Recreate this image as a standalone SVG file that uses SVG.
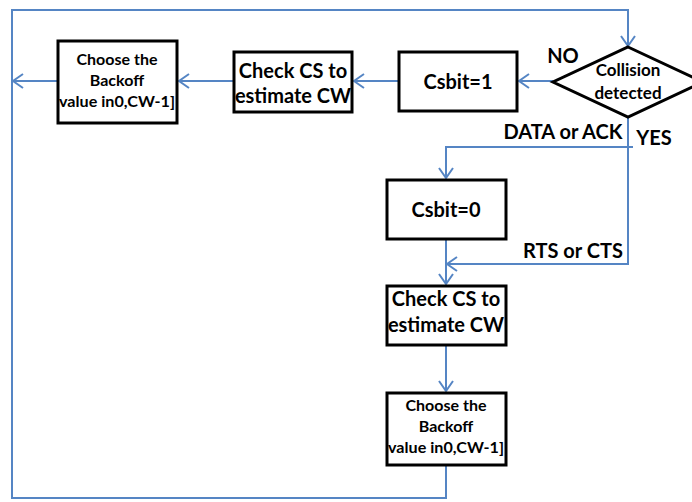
<svg xmlns="http://www.w3.org/2000/svg" width="692" height="502" viewBox="0 0 692 502">
<style>
.box{fill:#fff;stroke:#000;stroke-width:3}
.ln{fill:none;stroke:#5585C4;stroke-width:2}
text{font-family:Lato,"Open Sans","Liberation Sans",sans-serif;font-weight:bold;fill:#000;text-anchor:middle}
.big{font-size:20px}
.sm{font-size:16px}
.dia{font-size:17px}
.lbl{font-size:20px}
</style>
<defs>
<marker id="ar" viewBox="0 0 12 16" refX="11" refY="8" markerWidth="12" markerHeight="16" markerUnits="userSpaceOnUse" orient="auto">
<polyline points="1,1 11,8 1,15" fill="none" stroke="#5585C4" stroke-width="2"/>
</marker>
</defs>
<rect width="692" height="502" fill="#fff"/>
<g id="connectors">
<polyline class="ln" points="446,465 446,498 12,498 12,10 628,10 628,46" marker-end="url(#ar)"/>
<line class="ln" x1="553" y1="81" x2="519" y2="81" marker-end="url(#ar)"/>
<line class="ln" x1="399" y1="81" x2="354" y2="81" marker-end="url(#ar)"/>
<line class="ln" x1="234" y1="81" x2="179" y2="81" marker-end="url(#ar)"/>
<line class="ln" x1="58" y1="81" x2="13" y2="81" marker-end="url(#ar)"/>
<polyline class="ln" points="628,117 628,264 447,264" marker-end="url(#ar)"/>
<polyline class="ln" points="633,147 446,147 446,178" marker-end="url(#ar)"/>
<line class="ln" x1="446" y1="239" x2="446" y2="284" marker-end="url(#ar)"/>
<line class="ln" x1="446" y1="345" x2="446" y2="391" marker-end="url(#ar)"/>
</g>
<g id="collision">
<polygon class="box" points="628,47 703,82 628,117 553,82"/>
<text class="dia" x="628" y="76">Collision</text>
<text class="dia" x="628" y="99">detected</text>
</g>
<g id="csbit1">
<rect class="box" x="399" y="52" width="118" height="59"/>
<text class="big" x="458" y="89">Csbit=1</text>
</g>
<g id="checkcs1">
<rect class="box" x="234" y="52" width="118" height="60"/>
<text class="big" x="293" y="78">Check CS to</text>
<text class="big" x="293" y="103">estimate CW</text>
</g>
<g id="backoff1">
<rect class="box" x="58" y="41" width="119" height="82"/>
<text class="sm" x="117" y="65">Choose the</text>
<text class="sm" x="117" y="86">Backoff</text>
<text class="sm" x="117" y="107" textLength="116" lengthAdjust="spacingAndGlyphs">value in0,CW-1]</text>
</g>
<g id="csbit0">
<rect class="box" x="387" y="180" width="119" height="59"/>
<text class="big" x="446" y="217">Csbit=0</text>
</g>
<g id="checkcs2">
<rect class="box" x="387" y="286" width="119" height="59"/>
<text class="big" x="446" y="306">Check CS to</text>
<text class="big" x="446" y="332">estimate CW</text>
</g>
<g id="backoff2">
<rect class="box" x="387" y="393" width="119" height="72"/>
<text class="sm" x="446" y="411">Choose the</text>
<text class="sm" x="446" y="432">Backoff</text>
<text class="sm" x="446" y="453" textLength="116" lengthAdjust="spacingAndGlyphs">value in0,CW-1]</text>
</g>
<g id="labels">
<text class="lbl" x="563" y="63">NO</text>
<text class="lbl" x="563" y="139">DATA or ACK</text>
<text class="lbl" x="654" y="145">YES</text>
<text class="lbl" x="573" y="258">RTS or CTS</text>
</g>
</svg>
